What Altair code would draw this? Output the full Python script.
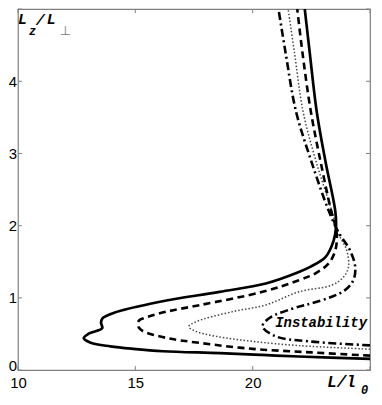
import altair as alt
import pandas as pd

# ---- data ----
solid_x = [25.0, 21.97, 20.4, 18.6, 16.18, 14.91, 13.94, 13.10, 12.80, 13.01, 13.59, 13.54, 13.60, 14.07,
           16.05, 18.59, 20.56, 21.97, 22.45, 23.10, 23.45, 23.55, 23.52, 23.10, 22.73, 22.43, 22.22]
solid_y = [0.155, 0.188, 0.21, 0.235, 0.261, 0.294, 0.329, 0.380, 0.442, 0.504, 0.582, 0.655, 0.717, 0.792,
           0.947, 1.084, 1.20, 1.359, 1.43, 1.565, 1.794, 1.973, 2.2, 2.892, 3.578, 4.40, 5.0]

dashed_x = [25.0, 22.5, 20.0, 17.75, 16.34, 15.35, 15.15, 15.11, 15.17, 15.35, 16.34, 17.75, 20.42, 21.97,
            22.68, 23.24, 23.52, 23.58, 23.31, 22.89, 22.48, 22.12, 21.90]
dashed_y = [0.20, 0.245, 0.294, 0.376, 0.445, 0.535, 0.59, 0.651, 0.69, 0.719, 0.81, 0.90, 1.084, 1.245,
            1.341, 1.478, 1.657, 1.89, 2.25, 2.892, 3.578, 4.40, 5.0]

dotted_x = [25.0, 21.97, 20.0, 18.45, 17.55, 17.28, 17.61, 19.15, 20.56, 21.97, 23.37, 23.87, 24.08, 24.01,
            23.66, 23.37, 22.70, 22.15, 21.78, 21.51]
dotted_y = [0.29, 0.339, 0.398, 0.467, 0.54, 0.604, 0.673, 0.81, 0.902, 1.084, 1.176, 1.29, 1.428, 1.657,
            1.89, 2.206, 2.892, 3.578, 4.40, 5.0]

dashdot_x = [25.0, 22.39, 20.99, 20.42, 20.70, 21.97, 22.52, 23.37, 23.94, 24.29, 24.37, 24.15, 23.66,
             23.24, 22.50, 21.85, 21.40, 21.10]
dashdot_y = [0.343, 0.398, 0.467, 0.604, 0.719, 0.879, 0.925, 1.016, 1.108, 1.245, 1.428, 1.657, 1.908,
             2.206, 2.892, 3.578, 4.40, 5.0]

x_tick_labels = [10, 15, 20]
y_tick_labels = [0, 1, 2, 3, 4]
x_ticks = [10, 15, 20, 25]
y_ticks = [0, 1, 2, 3, 4, 5]

annotation = ["Instability"]
annotation_x = [20.96]
annotation_y = [0.59]
y_title_parts = ["L", "z", "/", "L", "\u22a5"]
x_title_parts = ["L/l", "0"]

# ---- layout ----
W, H = 354, 363
GRAY = "#808080"
MONO = "Liberation Mono"
SANS = "Liberation Sans"

xs = alt.Scale(domain=[10, 25], nice=False, zero=False)
ys = alt.Scale(domain=[0, 5], nice=False, zero=False)

x_axis = alt.Axis(values=x_tick_labels, title=None, ticks=False, domain=False, grid=False,
                  labelFont=SANS, labelFontSize=15, labelColor="black", labelPadding=5,
                  labelFlush=False)
y_axis = alt.Axis(values=y_tick_labels, title=None, ticks=False, domain=False, grid=False,
                  labelFont=SANS, labelFontSize=15, labelColor="black", labelPadding=1.5,
                  labelFlush=True, labelFlushOffset=3)

X = alt.X("x:Q", scale=xs, axis=x_axis)
Y = alt.Y("y:Q", scale=ys, axis=y_axis)


def curve(xv, yv, **mk):
    df = pd.DataFrame({"x": xv, "y": yv, "i": list(range(len(xv)))})
    return alt.Chart(df).mark_line(clip=True, strokeJoin="round", interpolate="catmull-rom", **mk).encode(
        x=X, y=Y, order=alt.Order("i:Q"))


layers = [
    curve(dotted_x, dotted_y, color="#444444", strokeWidth=1.5, strokeDash=[1.5, 2]),
    curve(dashdot_x, dashdot_y, color="black", strokeWidth=2.6, strokeDash=[8, 3.5, 2, 3.5]),
    curve(dashed_x, dashed_y, color="black", strokeWidth=2.6, strokeDash=[7, 4.5]),
    curve(solid_x, solid_y, color="black", strokeWidth=2.7),
]

xt = pd.DataFrame({"x": x_ticks})
yt = pd.DataFrame({"y": y_ticks})
tick_style = dict(color=GRAY, strokeWidth=1)
layers += [
    alt.Chart(xt).mark_rule(**tick_style).encode(x=X, y=alt.value(H), y2=alt.value(H - 4)),
    alt.Chart(xt).mark_rule(**tick_style).encode(x=X, y=alt.value(0), y2=alt.value(4)),
    alt.Chart(yt).mark_rule(**tick_style).encode(y=Y, x=alt.value(0), x2=alt.value(4)),
    alt.Chart(yt).mark_rule(**tick_style).encode(y=Y, x=alt.value(W), x2=alt.value(W - 4)),
]

# annotation
ann = pd.DataFrame({"x": annotation_x, "y": annotation_y, "t": annotation})
layers.append(
    alt.Chart(ann).mark_text(font=MONO, fontSize=14, fontWeight="bold", fontStyle="italic",
                             align="left", baseline="alphabetic", color="black")
    .encode(x=X, y=Y, text="t:N")
)


def label(txt, px, py, size, color="black", weight="bold", style="italic", font=MONO):
    return alt.Chart(pd.DataFrame({"t": [txt]})).mark_text(
        font=font, fontSize=size, fontWeight=weight, fontStyle=style, align="left",
        baseline="alphabetic", color=color).encode(text="t:N", x=alt.value(px), y=alt.value(py))


# y title  L_z / L_perp
layers += [
    label(y_title_parts[0], 0, 15, 15),
    label(y_title_parts[1], 11, 26, 12),
    label(y_title_parts[2], 18, 16, 15),
    label(y_title_parts[3], 29, 15, 15),
    label(y_title_parts[4], 42, 26, 13, color="#777777", weight="normal", style="normal", font="DejaVu Sans"),
]
# x title  L / l_0
layers += [
    label(x_title_parts[0], 311, 380, 16),
    label(x_title_parts[1], 345, 387, 12),
]

chart = alt.layer(*layers).properties(
    width=W, height=H,
    autosize=alt.AutoSizeParams(type="none"),
    padding={"left": 10, "top": 0, "right": 4, "bottom": 32},
).configure_view(stroke=GRAY, strokeWidth=1.2)

chart.save("out.html", embed_options={"renderer": "svg", "actions": False})
